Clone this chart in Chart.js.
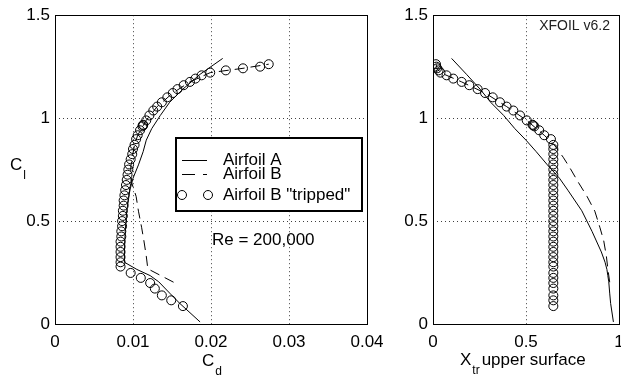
<!DOCTYPE html>
<html>
<head>
<meta charset="utf-8">
<script src="https://cdn.jsdelivr.net/npm/chart.js@4"></script>
<style>
  html, body { margin: 0; padding: 0; background: #fff; overflow: hidden; }
  #wrap { position: relative; width: 621px; height: 377px; overflow: hidden; background: #fff; }
  canvas { position: absolute; left: 0; top: 0; }
</style>
</head>
<body>
<div id="wrap">
  <canvas id="polar" width="700" height="377"></canvas>
  <canvas id="transition" width="700" height="377"></canvas>
</div>
<script>
// Airfoil A (solid)
const clA  = [0.010, 0.100, 0.150, 0.205, 0.235, 0.265, 0.300, 0.350, 0.450, 0.550, 0.650, 0.708, 0.773, 0.837, 0.893, 0.949, 1.013, 1.077, 1.141, 1.213, 1.290];
const cdA  = [0.0186, 0.0160, 0.0147, 0.0133, 0.0122, 0.0105, 0.0089, 0.0089, 0.0090, 0.0092, 0.0096, 0.0100, 0.0107, 0.0113, 0.0117, 0.0124, 0.0135, 0.0147, 0.0164, 0.0186, 0.0215];
const xtrA = [0.970, 0.955, 0.950, 0.945, 0.940, 0.935, 0.925, 0.905, 0.855, 0.800, 0.725, 0.680, 0.615, 0.555, 0.500, 0.440, 0.380, 0.310, 0.253, 0.180, 0.100];

// Airfoil B (dashed)
const clB  = [0.203, 0.268, 0.330, 0.404, 0.470, 0.548, 0.620, 0.690, 0.760, 0.810, 0.870, 0.917, 0.989, 1.056, 1.122, 1.176, 1.221, 1.242, 1.262];
const cdB  = [0.0152, 0.0119, 0.0117, 0.0114, 0.0111, 0.0107, 0.0104, 0.0098, 0.0097, 0.0099, 0.0102, 0.0106, 0.0117, 0.0131, 0.0151, 0.0173, 0.0199, 0.0241, 0.0274];
const xtrB = [0.950, 0.940, 0.932, 0.918, 0.897, 0.870, 0.828, 0.780, 0.735, 0.700, 0.652, 0.598, 0.504, 0.396, 0.280, 0.154, 0.040, 0.022, 0.016];

// Airfoil B "tripped" (circles)
const clT  = [0.087, 0.115, 0.139, 0.172, 0.199, 0.224, 0.248, 0.279,
              0.300, 0.325, 0.350, 0.375, 0.400, 0.425, 0.450, 0.475, 0.500, 0.525, 0.550, 0.575,
              0.600, 0.625, 0.650, 0.675, 0.700, 0.725, 0.750, 0.775, 0.800, 0.825, 0.850, 0.870,
              0.898, 0.917, 0.941, 0.960, 0.965, 0.968, 0.989, 1.013, 1.037, 1.056, 1.077, 1.101,
              1.122, 1.141, 1.160, 1.176, 1.192, 1.208, 1.221, 1.232, 1.242, 1.250, 1.262];
const cdT  = [0.0164, 0.0149, 0.0137, 0.0128, 0.0122, 0.0110, 0.0097, 0.0084,
              0.0084, 0.0084, 0.0084, 0.0084, 0.0084, 0.0085, 0.0085, 0.0086, 0.0086, 0.0087, 0.0087, 0.0088,
              0.0088, 0.0089, 0.0090, 0.0091, 0.0092, 0.0093, 0.0094, 0.0095, 0.0097, 0.0099, 0.0100, 0.0102,
              0.0104, 0.0106, 0.0109, 0.0112, 0.0113, 0.0113, 0.0117, 0.0121, 0.0126, 0.0131, 0.0137, 0.0144,
              0.0151, 0.0157, 0.0165, 0.0173, 0.0180, 0.0188, 0.0199, 0.0219, 0.0241, 0.0263, 0.0274];
const xtrT = [0.647, 0.647, 0.647, 0.647, 0.647, 0.647, 0.647, 0.647,
              0.647, 0.647, 0.647, 0.647, 0.647, 0.647, 0.647, 0.647, 0.647, 0.647, 0.647, 0.647,
              0.647, 0.647, 0.647, 0.647, 0.647, 0.647, 0.647, 0.647, 0.647, 0.647, 0.647, 0.647,
              0.634, 0.598, 0.571, 0.545, 0.539, 0.535, 0.504, 0.468, 0.432, 0.396, 0.360, 0.321,
              0.280, 0.240, 0.195, 0.154, 0.109, 0.073, 0.040, 0.030, 0.022, 0.018, 0.016];

// ticks
const clTicks = [0, 0.5, 1, 1.5];
const clTickLabels = ['0', '0.5', '1', '1.5'];
const cdTicks = [0, 0.01, 0.02, 0.03, 0.04];
const cdTickLabels = ['0', '0.01', '0.02', '0.03', '0.04'];
const xtrTicks = [0, 0.5, 1];
const xtrTickLabels = ['0', '0.5', '1'];

const legendLabels = ['Airfoil A', 'Airfoil B', 'Airfoil B "tripped"'];

const FONT = '"Liberation Sans", Arial, Helvetica, sans-serif';
Chart.defaults.font.family = FONT;
Chart.defaults.font.size = 17;
Chart.defaults.color = '#000';

function pts(xs, ys) {
    return xs.map((x, i) => ({ x: x, y: ys[i] }));
}

function axis(pos, values, labels) {
    return {
        type: 'linear',
        position: pos,
        min: values[0],
        max: values[values.length - 1],
        afterBuildTicks: s => { s.ticks = values.map(v => ({ value: v })); },
        afterFit: s => { if (pos === 'left') s.width = 50; else s.height = 40; },
        ticks: {
            callback: (v, i) => labels[i],
            padding: pos === 'left' ? 5 : 8,
            autoSkip: false,
            maxRotation: 0,
            color: '#000'
        },
        grid: {
            drawTicks: false,
            lineWidth: 1,
            color: c => (c.index === 0 || c.index === values.length - 1) ? 'rgba(0,0,0,0)' : 'rgba(0,0,0,0.75)'
        },
        border: { display: false, dash: [1, 3] }
    };
}

function datasets(xA, xB, xT) {
    return [
        { data: pts(xA, clA), showLine: true, borderColor: '#000', borderWidth: 1, pointRadius: 0, tension: 0 },
        { data: pts(xB, clB), showLine: true, borderColor: '#000', borderWidth: 1, borderDash: [10, 6], pointRadius: 0, tension: 0 },
        { data: pts(xT, clT), showLine: false, pointRadius: 4.5, pointBorderWidth: 1,
          pointBorderColor: '#000', pointBackgroundColor: 'rgba(0,0,0,0)' }
    ];
}

// frame round the axes
const frame = {
    id: 'frame',
    afterDatasetsDraw(chart) {
        const { ctx, chartArea: a } = chart;
        ctx.save();
        ctx.strokeStyle = '#000';
        ctx.lineWidth = 1;
        ctx.strokeRect(Math.round(a.left) + 0.5, Math.round(a.top) + 0.5,
                       Math.round(a.right - a.left), Math.round(a.bottom - a.top));
        ctx.restore();
    }
};

function subLabel(ctx, x, y, main, sub, rest) {
    ctx.font = '17px ' + FONT;
    ctx.textBaseline = 'alphabetic';
    ctx.textAlign = 'left';
    ctx.fillText(main, x, y);
    let w = ctx.measureText(main).width;
    ctx.font = '12px ' + FONT;
    ctx.fillText(sub, x + w + 1, y + 9);
    if (rest) {
        let w2 = ctx.measureText(sub).width;
        ctx.font = '17px ' + FONT;
        ctx.fillText(rest, x + w + w2 + 3, y);
    }
}

const polarDecor = {
    id: 'polarDecor',
    afterDraw(chart) {
        const { ctx, chartArea: a } = chart;
        ctx.save();
        ctx.fillStyle = '#000';
        subLabel(ctx, 10, 170, 'C', 'l');
        subLabel(ctx, (a.left + a.right) / 2 - 9, 366, 'C', 'd');

        // legend
        const L = 176, T = 138, W = 186, H = 73;
        ctx.fillStyle = '#fff';
        ctx.fillRect(L, T, W, H);
        ctx.strokeStyle = '#000';
        ctx.lineWidth = 2;
        ctx.strokeRect(L, T, W, H);
        const rows = [160, 174, 195];
        ctx.lineWidth = 1;
        ctx.beginPath();
        ctx.moveTo(L + 6, rows[0] + 0.5); ctx.lineTo(L + 31, rows[0] + 0.5);
        ctx.stroke();
        ctx.setLineDash([13, 8]);
        ctx.beginPath();
        ctx.moveTo(L + 6, rows[1] + 0.5); ctx.lineTo(L + 31, rows[1] + 0.5);
        ctx.stroke();
        ctx.setLineDash([]);
        [L + 6, L + 32].forEach(cx => {
            ctx.beginPath();
            ctx.arc(cx, rows[2], 4.5, 0, Math.PI * 2);
            ctx.stroke();
        });
        ctx.fillStyle = '#000';
        ctx.font = '17px ' + FONT;
        ctx.textBaseline = 'middle';
        ctx.textAlign = 'left';
        legendLabels.forEach((t, i) => ctx.fillText(t, L + 47, rows[i]));

        ctx.fillText('Re = 200,000', 212, 240);
        ctx.restore();
    }
};

const transitionDecor = {
    id: 'transitionDecor',
    afterDraw(chart) {
        const { ctx, chartArea: a } = chart;
        ctx.save();
        ctx.fillStyle = '#000';
        subLabel(ctx, (a.left + a.right) / 2 - 66, 365, 'X', 'tr', 'upper surface');
        ctx.font = '14px ' + FONT;
        ctx.textBaseline = 'middle';
        ctx.textAlign = 'right';
        ctx.fillStyle = '#222';
        ctx.fillText('XFOIL v6.2', a.right - 9, 26);
        ctx.restore();
    }
};

function baseOptions(padLeft, padRight, xAxis) {
    return {
        responsive: false,
        animation: false,
        events: [],
        layout: { padding: { left: padLeft, right: padRight, top: 12, bottom: 13 } },
        plugins: { legend: { display: false }, tooltip: { enabled: false } },
        scales: {
            x: xAxis,
            y: axis('left', clTicks, clTickLabels)
        }
    };
}

// left: lift against drag
new Chart(document.getElementById('polar'), {
    type: 'scatter',
    data: { datasets: datasets(cdA, cdB, cdT) },
    options: baseOptions(5, 333, axis('bottom', cdTicks, cdTickLabels)),
    plugins: [frame, polarDecor]
});

// right: lift against transition point
new Chart(document.getElementById('transition'), {
    type: 'scatter',
    data: { datasets: datasets(xtrA, xtrB, xtrT) },
    options: baseOptions(383, 81, axis('bottom', xtrTicks, xtrTickLabels)),
    plugins: [frame, transitionDecor]
});
</script>
</body>
</html>
